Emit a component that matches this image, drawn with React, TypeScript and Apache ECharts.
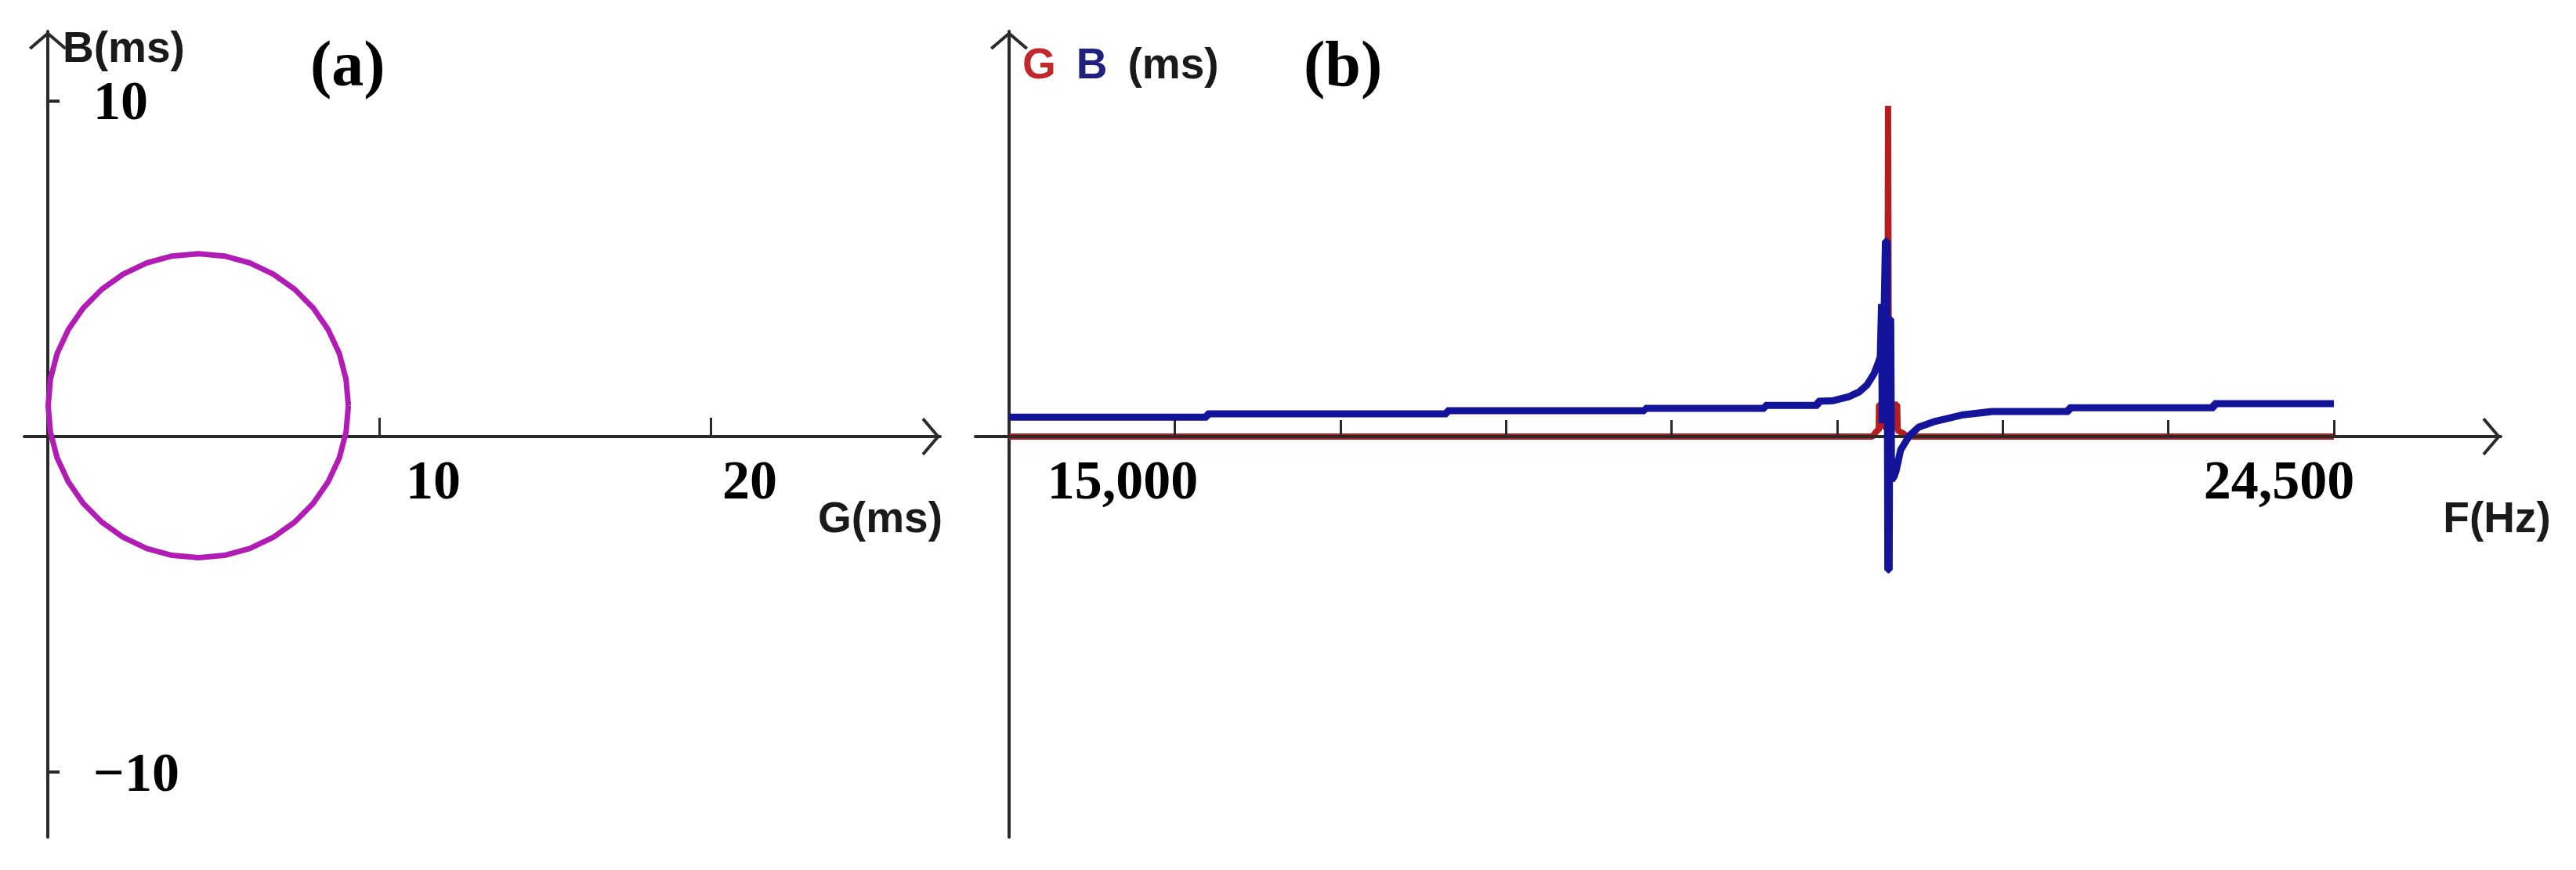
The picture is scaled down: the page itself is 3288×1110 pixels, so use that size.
import React, { useEffect, useRef } from "react";
import * as echarts from "echarts";

// ---------- Panel (a): admittance circle, [G (ms), B (ms)] ----------
const CIRCLE_POINTS: [number, number][] = [
  [9.07, 0.92], [9.0, 1.71], [8.8, 2.47], [8.46, 3.19], [8.01, 3.83], [7.45, 4.39],
  [6.81, 4.84], [6.09, 5.18], [5.33, 5.38], [4.54, 5.45], [3.75, 5.38], [2.99, 5.18],
  [2.27, 4.84], [1.63, 4.39], [1.07, 3.83], [0.62, 3.19], [0.28, 2.47], [0.08, 1.71],
  [0.01, 0.92], [0.08, 0.13], [0.28, -0.63], [0.62, -1.35], [1.07, -1.99], [1.63, -2.55],
  [2.27, -3.0], [2.99, -3.34], [3.75, -3.54], [4.54, -3.61], [5.33, -3.54], [6.09, -3.34],
  [6.81, -3.0], [7.45, -2.55], [8.01, -1.99], [8.46, -1.35], [8.8, -0.63], [9.0, 0.13],
  [9.07, 0.92],
];
const G_TICKS = [10, 20];
const G_TICK_LABELS = ["10", "20"];
const B_TICKS = [10, -10];
const B_TICK_LABELS = ["10", "\u221210"];

// ---------- Panel (b): G and B versus frequency, [F (Hz), value (ms)] ----------
const G_SERIES: [number, number][] = [
  [15000, 0], [21190, 0], [21225, 0.18], [21236, 0.18], [21238, 0.95], [21262, 0.95],
  [21268, 0.3], [21298, 0.3], [21303, 9.86], [21309, 0.3], [21338, 0.3], [21344, 0.95],
  [21368, 0.95], [21372, 0.18], [21410, 0.1], [21440, 0], [24500, 0],
];
const B_SERIES: [number, number][] = [
  [15000, 0.58], [16420, 0.58], [16420, 0.68], [18140, 0.68], [18140, 0.77], [19560, 0.77],
  [19560, 0.84], [20420, 0.84], [20420, 0.93], [20800, 0.93], [20800, 1.05], [20910, 1.07],
  [21022, 1.19], [21095, 1.33], [21152, 1.54], [21202, 1.87], [21230, 2.17], [21247, 2.38],
  [21256, 3.95], [21261, 0.4], [21266, 3.95], [21271, 0.4], [21276, 4.0], [21284, 5.82],
  [21296, 5.82], [21301, -3.97], [21311, -3.97], [21316, 3.5], [21322, 3.5], [21328, -1.3],
  [21345, -1.2], [21360, -1.03], [21393, -0.4], [21455, 0.02], [21522, 0.28], [21629, 0.44],
  [21843, 0.65], [22056, 0.75], [22600, 0.75], [22600, 0.86], [23640, 0.86], [23640, 0.98],
  [24500, 0.98],
];
const F_TICKS = [16187.5, 17375, 18562.5, 19750, 20937.5, 22125, 23312.5, 24500];
const F_LABEL_VALUES = [15000, 24500];
const F_LABELS = ["15,000", "24,500"];

const AXIS_COLOR = "#2a2a2a";
const ARROW = "path://M0,20.5 L24,0 L48,20.5 L45.4,23.5 L24,5.2 L2.6,23.5 Z";
const SERIF = "Liberation Serif";
const SANS = "Liberation Sans";

const tickFont = { fontFamily: SERIF, fontWeight: "bold" as const, fontSize: 70, color: "#000" };
const nameFont = { fontFamily: SANS, fontWeight: "bold" as const, fontSize: 55, color: "#1a1a1a" };

const axisLineBase = {
  lineStyle: { color: AXIS_COLOR, width: 4 },
  symbol: ["none", ARROW],
  symbolSize: [48, 23.5],
  symbolOffset: [0, -11.75],
};

export default function App() {
  const ref = useRef<HTMLDivElement>(null);

  useEffect(() => {
    document.body.style.margin = "0";
    if (!ref.current) return;
    const chart = echarts.init(ref.current, null, { renderer: "svg" });

    const option: any = {
      animation: false,
      backgroundColor: "#ffffff",
      title: [
        { text: "(a)", left: 396, top: 40, padding: 0, textStyle: { ...tickFont, fontSize: 82 } },
        { text: "(b)", left: 1664, top: 40, padding: 0, textStyle: { ...tickFont, fontSize: 82 } },
      ],
      grid: [
        { left: 31, top: 40, width: 1169, height: 1028, containLabel: false, outerBoundsMode: "none" },
        { left: 1245, top: 40, width: 1947, height: 1028, containLabel: false, outerBoundsMode: "none" },
      ],
      xAxis: [
        {
          type: "value",
          gridIndex: 0,
          min: -0.709,
          max: 26.927,
          axisLine: { ...axisLineBase, onZero: true },
          axisTick: { show: true, customValues: G_TICKS, inside: true, length: 24, lineStyle: { color: AXIS_COLOR, width: 3 } },
          axisLabel: {
            show: true,
            customValues: G_TICKS,
            margin: -491,
            formatter: (v: number) => {
              const i = G_TICKS.indexOf(v);
              return i < 0 ? "" : `{t${i}|${G_TICK_LABELS[i]}}`;
            },
            rich: {
              t0: { ...tickFont, padding: [0, 0, 0, 138] },
              t1: { ...tickFont, padding: [0, 0, 0, 100] },
            },
            ...tickFont,
          },
          splitLine: { show: false },
          name: "G(ms)",
          nameLocation: "end",
          nameGap: 3,
          nameMoveOverlap: false,
          nameTextStyle: { ...nameFont, align: "right", verticalAlign: "top", padding: [76, 0, 0, 0] },
        },
        {
          type: "value",
          gridIndex: 1,
          min: 14758.4,
          max: 25696.6,
          z: 3,
          axisLine: { ...axisLineBase, onZero: true },
          axisTick: { show: true, customValues: F_TICKS, inside: true, length: 21, lineStyle: { color: AXIS_COLOR, width: 3 } },
          axisLabel: {
            show: true,
            customValues: F_LABEL_VALUES,
            margin: -491,
            formatter: (v: number) => {
              const i = F_LABEL_VALUES.indexOf(v);
              return i < 0 ? "" : `{f${i}|${F_LABELS[i]}}`;
            },
            rich: {
              f0: { ...tickFont, padding: [0, 0, 0, 290] },
              f1: { ...tickFont, padding: [0, 140, 0, 0] },
            },
            ...tickFont,
          },
          splitLine: { show: false },
          name: "F(Hz)",
          nameLocation: "end",
          nameGap: -5,
          nameMoveOverlap: false,
          nameTextStyle: { ...nameFont, align: "center", verticalAlign: "top", padding: [76, 0, 0, 0] },
        },
      ],
      yAxis: [
        {
          type: "value",
          gridIndex: 0,
          min: -11.939,
          max: 12.079,
          axisLine: { ...axisLineBase, onZero: true },
          axisTick: { show: true, customValues: B_TICKS, inside: true, length: 15, lineStyle: { color: AXIS_COLOR, width: 4 } },
          axisLabel: {
            show: true,
            customValues: B_TICKS,
            inside: true,
            align: "left",
            margin: 88,
            padding: [12, 0, 0, 0],
            formatter: (v: number) => {
              const i = B_TICKS.indexOf(v);
              return i < 0 ? "" : B_TICK_LABELS[i];
            },
            ...tickFont,
          },
          splitLine: { show: false },
          name: "B(ms)",
          nameLocation: "end",
          nameGap: 0,
          nameMoveOverlap: false,
          nameTextStyle: { ...nameFont, align: "left", verticalAlign: "top", lineHeight: 40, padding: [0, 0, 0, 19] },
        },
        {
          type: "value",
          gridIndex: 1,
          min: -11.939,
          max: 12.079,
          position: "left",
          offset: -43,
          axisLine: { ...axisLineBase, onZero: false },
          axisTick: { show: false },
          axisLabel: { show: false },
          splitLine: { show: false },
          name: "{g|G}{b|B}(ms)",
          nameLocation: "end",
          nameGap: 0,
          nameMoveOverlap: false,
          nameTextStyle: {
            ...nameFont,
            align: "left",
            verticalAlign: "middle",
            padding: [82, 0, 0, 17],
            rich: {
              g: { ...nameFont, color: "#c0282d", padding: [0, 26, 0, 0] },
              b: { ...nameFont, color: "#20207e", padding: [0, 26, 0, 0] },
            },
          },
        },
      ],
      series: [
        {
          name: "circle",
          type: "line",
          xAxisIndex: 0,
          yAxisIndex: 0,
          data: CIRCLE_POINTS,
          showSymbol: false,
          symbol: "none",
          lineStyle: { color: "#b01cb4", width: 7 },
          z: 2,
        },
        {
          name: "G",
          type: "line",
          xAxisIndex: 1,
          yAxisIndex: 1,
          data: G_SERIES,
          showSymbol: false,
          symbol: "none",
          lineStyle: { color: "#b41e1e", width: 8 },
          z: 2,
        },
        {
          name: "B",
          type: "line",
          xAxisIndex: 1,
          yAxisIndex: 1,
          data: B_SERIES,
          showSymbol: false,
          symbol: "none",
          lineStyle: { color: "#14149a", width: 9 },
          z: 4,
        },
      ],
    };

    chart.setOption(option);
    return () => chart.dispose();
  }, []);

  return <div ref={ref} style={{ width: 3288, height: 1110, background: "#fff" }} />;
}
